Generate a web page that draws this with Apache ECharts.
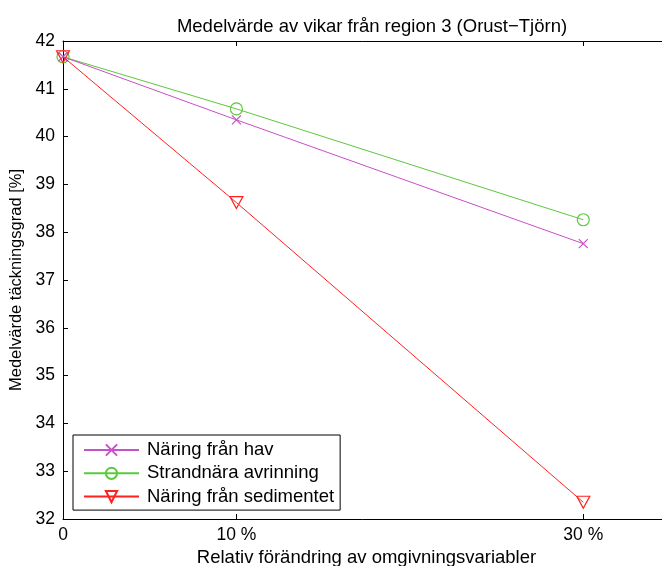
<!DOCTYPE html>
<html>
<head>
<meta charset="utf-8">
<script src="https://cdn.jsdelivr.net/npm/echarts@6/dist/echarts.min.js"></script>
<style>
  html, body { margin: 0; padding: 0; background: #fff; }
  #chart { width: 662px; height: 566px; }
</style>
</head>
<body>
<div id="chart"></div>
<script>
// Relative change of the environmental variables (%)
const changes = [0, 10, 30];
const tickValues = [0, 10, 30];
const tickLabels = ['0', '10 %', '30 %'];

// Mean coverage (%) per scenario
const naringHav = [41.67, 40.35, 37.76];
const strandnara = [41.67, 40.58, 38.26];
const naringSediment = [41.67, 38.62, 32.35];

const seriesNames = ['Näring från hav', 'Strandnära avrinning', 'Näring från sedimentet'];

const FONT = 'Liberation Sans, Arial, Helvetica, sans-serif';

function pairs(vals) {
  return changes.map((c, i) => [c, vals[i]]);
}

const chart = echarts.init(document.getElementById('chart'), null, { renderer: 'canvas' });

// The axes box runs a little past the right edge of the canvas.
const xCommon = {
  type: 'value',
  min: 0,
  max: 35,
  splitLine: { show: false },
  axisLine: { show: true, onZero: false, lineStyle: { color: '#000', width: 1 } },
  axisTick: { show: true, inside: true, length: 5, customValues: tickValues, lineStyle: { color: '#000' } }
};

chart.setOption({
  animation: false,
  backgroundColor: '#fff',
  title: {
    text: 'Medelvärde av vikar från region 3 (Orust\u2212Tjörn)',
    left: 367,
    textAlign: 'center',
    top: 12,
    textStyle: { fontFamily: FONT, fontSize: 18.5, fontWeight: 'normal', color: '#000' }
  },
  grid: { left: 63, width: 607, top: 41, height: 478, outerBoundsMode: 'none', containLabel: false },
  legend: {
    orient: 'vertical',
    left: 73,
    top: 435,
    data: seriesNames,
    itemWidth: 55,
    itemHeight: 14,
    itemGap: 4.3,
    padding: [5.5, 6, 4, 10],
    borderColor: '#000',
    borderWidth: 1,
    backgroundColor: '#fff',
    textStyle: { fontFamily: FONT, fontSize: 18.5, color: '#000', padding: [0, 0, 0, 3] }
  },
  xAxis: [
    Object.assign({}, xCommon, {
      position: 'bottom',
      name: 'Relativ förändring av omgivningsvariabler',
      nameLocation: 'middle',
      nameGap: 29,
      nameTextStyle: { fontFamily: FONT, fontSize: 18.5, color: '#000' },
      axisLabel: {
        show: true,
        margin: 7,
        customValues: tickValues,
        formatter: v => tickLabels[tickValues.indexOf(v)],
        fontFamily: FONT, fontSize: 17.5, color: '#000'
      }
    }),
    Object.assign({}, xCommon, {
      position: 'top',
      axisLabel: { show: false }
    })
  ],
  yAxis: {
    type: 'value',
    min: 32,
    max: 42,
    interval: 1,
    name: 'Medelvärde täckningsgrad [%]',
    nameLocation: 'middle',
    nameGap: 35,
    nameTextStyle: { fontFamily: FONT, fontSize: 16.5, color: '#000' },
    splitLine: { show: false },
    axisLine: { show: true, lineStyle: { color: '#000', width: 1 } },
    axisTick: { show: true, inside: true, length: 5, lineStyle: { color: '#000' } },
    axisLabel: { margin: 8, fontFamily: FONT, fontSize: 17.5, color: '#000' }
  },
  series: [
    {
      name: seriesNames[0],
      type: 'line',
      data: pairs(naringHav),
      symbol: 'path://M0,0L10,10M10,0L0,10',
      symbolSize: 9,
      lineStyle: { color: '#c850c8', width: 1 },
      itemStyle: { color: 'rgba(0,0,0,0)', borderColor: '#c850c8', borderWidth: 1.2 },
      z: 3
    },
    {
      name: seriesNames[1],
      type: 'line',
      data: pairs(strandnara),
      symbol: 'circle',
      symbolSize: 12,
      lineStyle: { color: '#5cc83c', width: 1 },
      itemStyle: { color: 'rgba(0,0,0,0)', borderColor: '#5cc83c', borderWidth: 1.2 },
      z: 2
    },
    {
      name: seriesNames[2],
      type: 'line',
      data: pairs(naringSediment),
      symbol: 'triangle',
      symbolRotate: 180,
      symbolSize: [13, 12],
      lineStyle: { color: '#ff2020', width: 1 },
      itemStyle: { color: 'rgba(0,0,0,0)', borderColor: '#ff2020', borderWidth: 1.2 },
      z: 4
    }
  ]
});
</script>
</body>
</html>
